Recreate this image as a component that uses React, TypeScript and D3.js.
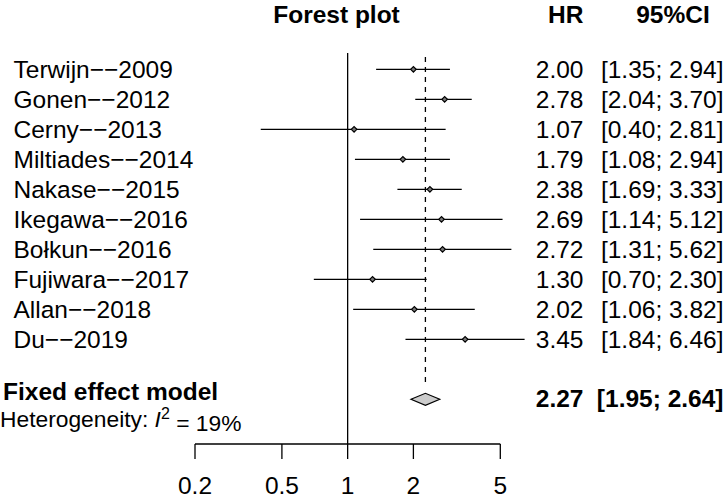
import React from "react";
import * as d3 from "d3";

const studies = [
  "Terwijn--2009",
  "Gonen--2012",
  "Cerny--2013",
  "Miltiades--2014",
  "Nakase--2015",
  "Ikegawa--2016",
  "Bołkun--2016",
  "Fujiwara--2017",
  "Allan--2018",
  "Du--2019",
];
const hr = [2.0, 2.78, 1.07, 1.79, 2.38, 2.69, 2.72, 1.3, 2.02, 3.45];
const lower = [1.35, 2.04, 0.4, 1.08, 1.69, 1.14, 1.31, 0.7, 1.06, 1.84];
const upper = [2.94, 3.7, 2.81, 2.94, 3.33, 5.12, 5.62, 2.3, 3.82, 6.46];
const pooled = { hr: 2.27, lower: 1.95, upper: 2.64 };
const tickValues = [0.2, 0.5, 1, 2, 5];
const tickLabels = ["0.2", "0.5", "1", "2", "5"];

const W = 725;
const H = 499;
const FONT = "'Liberation Sans', Arial, Helvetica, sans-serif";

const fmt = (v: number) => v.toFixed(2);
const ciText = (l: number, u: number) => `[${fmt(l)}; ${fmt(u)}]`;
const dashLabel = (s: string) => s.replace(/--/g, "\u2212\u2212");

export default function App() {
  const x = d3.scaleLog().domain([0.2, 5]).range([195, 500.3]);
  const rowY = d3
    .scaleLinear()
    .domain([0, 1])
    .range([69.3, 99.3]);
  const pooledY = rowY(11);
  const axisY = 444;
  const fs = 24.5;

  const diamond = (cx: number, cy: number, r: number) =>
    `M${cx - r},${cy}L${cx},${cy - r}L${cx + r},${cy}L${cx},${cy + r}Z`;

  return (
    <svg width={W} height={H} style={{ display: "block", position: "absolute", left: 0, top: 0 }} fontFamily={FONT}>
      <rect x={0} y={0} width={W} height={H} fill="#fff" />
      {/* headers */}
      <text x={336.5} y={22.5} textAnchor="middle" fontWeight="bold" fontSize={24.5}>
        Forest plot
      </text>
      <text x={583.5} y={22.5} textAnchor="end" fontWeight="bold" fontSize={24.5}>
        HR
      </text>
      <text x={673} y={22.5} textAnchor="middle" fontWeight="bold" fontSize={24.5}>
        95%CI
      </text>

      {/* reference line at 1 */}
      <line x1={x(1)} x2={x(1)} y1={53} y2={axisY} stroke="#000" strokeWidth={1.3} />
      {/* pooled dashed line */}
      <line
        x1={x(pooled.hr)}
        x2={x(pooled.hr)}
        y1={57}
        y2={387}
        stroke="#000"
        strokeWidth={1.3}
        strokeDasharray="5,5"
      />

      {/* studies */}
      {studies.map((s, i) => {
        const y = rowY(i);
        return (
          <g key={s}>
            <text x={13.5} y={y} dy="0.35em" fontSize={fs}>
              {dashLabel(s)}
            </text>
            <line x1={x(lower[i])} x2={x(upper[i])} y1={y} y2={y} stroke="#000" strokeWidth={1.3} />
            <path d={diamond(x(hr[i]), y, 2.8)} fill="#777" stroke="#000" strokeWidth={1.2} />
            <text x={583.5} y={y} dy="0.35em" textAnchor="end" fontSize={fs}>
              {fmt(hr[i])}
            </text>
            <text x={723.5} y={y} dy="0.35em" textAnchor="end" fontSize={fs}>
              {ciText(lower[i], upper[i])}
            </text>
          </g>
        );
      })}

      {/* pooled */}
      <text x={3} y={pooledY - 8} dy="0.35em" fontSize={fs} fontWeight="bold">
        Fixed effect model
      </text>
      <text x={0} y={pooledY + 20} dy="0.35em" fontSize={22.8}>
        Heterogeneity: <tspan fontStyle="italic">I</tspan>
        <tspan dy="-0.5em" fontSize={16}>2</tspan>
        <tspan dy="0.5em"> = 19%</tspan>
      </text>
      <path
        d={`M${x(pooled.lower)},${pooledY}L${x(pooled.hr)},${pooledY - 6}L${x(pooled.upper)},${pooledY}L${x(pooled.hr)},${pooledY + 6}Z`}
        fill="#cccccc"
        stroke="#000"
        strokeWidth={1.2}
      />
      <text x={583.5} y={pooledY - 1} dy="0.35em" textAnchor="end" fontSize={fs} fontWeight="bold">
        {fmt(pooled.hr)}
      </text>
      <text x={723.5} y={pooledY - 1} dy="0.35em" textAnchor="end" fontSize={fs} fontWeight="bold">
        {ciText(pooled.lower, pooled.upper)}
      </text>

      {/* axis */}
      <line x1={x(0.2)} x2={x(5)} y1={axisY} y2={axisY} stroke="#000" strokeWidth={1.3} />
      {tickValues.map((t, i) => (
        <g key={t}>
          <line x1={x(t)} x2={x(t)} y1={axisY} y2={axisY + 15} stroke="#000" strokeWidth={1.3} />
          <text x={x(t)} y={493.5} textAnchor="middle" fontSize={fs}>
            {tickLabels[i]}
          </text>
        </g>
      ))}
    </svg>
  );
}
